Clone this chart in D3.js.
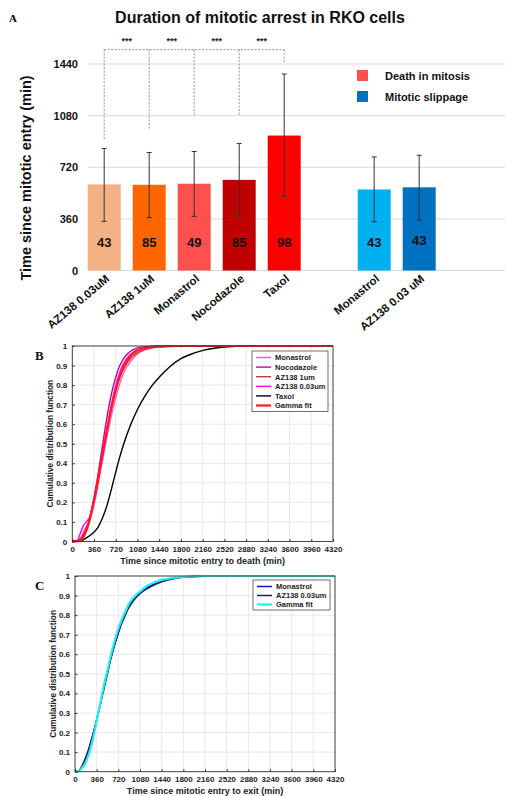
<!DOCTYPE html>
<html>
<head>
<meta charset="utf-8">
<script src="https://cdn.jsdelivr.net/npm/d3@7"></script>
<style>
body { margin: 0; background: #fff; }
text { font-family: "Liberation Sans", Arial, sans-serif; font-weight: bold; }
.panel-tag { font-family: "Liberation Serif", "Times New Roman", serif; }
</style>
</head>
<body>
<svg id="chart" width="505" height="796"></svg>
<script>
// ---- panel A data ----
const categories = ["AZ138 0.03uM", "AZ138 1uM", "Monastrol", "Nocodazole", "Taxol", "", "Monastrol", "AZ138 0.03 uM"];
const meanDuration = [600, 598, 605, 632, 941, null, 565, 580];
const errLow = [343, 370, 377, 377, 517, null, 340, 352];
const errHigh = [851, 823, 830, 886, 1370, null, 792, 804];
const cellCounts = [43, 85, 49, 85, 98, null, 43, 43];
const barColors = ["#F4B183", "#FF6600", "#FF5050", "#C00000", "#FF0000", null, "#00B0F0", "#0070C0"];
const yTicksA = [0, 360, 720, 1080, 1440];
const bracketDrop = [902, 978, 1078, 1078, 1443];
const bracketTop = 1540;
const sigLabels = ["***", "***", "***", "***"];
const legendA = [
    {label: "Death in mitosis", color: "#FF5050"},
    {label: "Mitotic slippage", color: "#0070C0"}
];

// ---- panel B data (minutes, cumulative fraction) ----
const monastrolDeath = [[0,0],[100,0.005],[160,0.03],[200,0.06],[240,0.08],[280,0.1],[330,0.15],[390,0.23],[450,0.33],[510,0.43],[570,0.53],[630,0.62],[690,0.7],[750,0.77],[810,0.83],[870,0.875],[930,0.905],[1000,0.935],[1080,0.96],[1200,0.98],[1440,0.995],[1800,1],[4320,1]];
const nocodazoleDeath = [[0,0],[120,0.005],[180,0.02],[240,0.06],[300,0.13],[360,0.22],[420,0.33],[480,0.45],[540,0.57],[600,0.68],[660,0.77],[720,0.84],[780,0.895],[840,0.93],[900,0.955],[960,0.972],[1080,0.99],[1200,0.997],[1440,1],[4320,1]];
const az1Death = [[0,0],[100,0.005],[160,0.025],[220,0.06],[280,0.11],[340,0.19],[400,0.28],[460,0.38],[520,0.48],[580,0.58],[640,0.67],[700,0.75],[760,0.815],[820,0.865],[880,0.9],[960,0.935],[1080,0.965],[1200,0.983],[1440,0.996],[1800,1],[4320,1]];
const az003Death = [[0,0],[80,0.005],[130,0.04],[180,0.08],[230,0.1],[280,0.12],[330,0.17],[390,0.25],[450,0.35],[510,0.46],[570,0.57],[630,0.67],[690,0.76],[750,0.83],[810,0.885],[870,0.92],[940,0.95],[1020,0.97],[1140,0.987],[1440,0.998],[1800,1],[4320,1]];
const taxolDeath = [[0,0],[150,0.005],[240,0.02],[330,0.04],[420,0.07],[500,0.12],[580,0.19],[650,0.27],[720,0.355],[780,0.425],[840,0.487],[900,0.542],[960,0.592],[1080,0.675],[1200,0.742],[1320,0.797],[1440,0.84],[1620,0.895],[1800,0.935],[2000,0.962],[2200,0.98],[2520,0.994],[2880,1],[4320,1]];
const gammaDeath = [[0,0],[90,0.002],[150,0.01],[210,0.04],[270,0.09],[330,0.17],[390,0.26],[450,0.36],[510,0.46],[570,0.56],[630,0.66],[690,0.74],[750,0.81],[810,0.865],[870,0.905],[930,0.935],[1000,0.96],[1080,0.977],[1200,0.99],[1440,0.998],[1800,1],[4320,1]];

// ---- panel C data ----
const monastrolExit = [[0,0],[60,0.003],[110,0.02],[170,0.06],[230,0.11],[290,0.18],[350,0.25],[410,0.33],[470,0.41],[530,0.49],[590,0.57],[650,0.64],[710,0.7],[770,0.755],[830,0.8],[890,0.84],[950,0.87],[1020,0.895],[1100,0.92],[1200,0.94],[1320,0.96],[1440,0.973],[1620,0.987],[1800,0.994],[2160,1],[4320,1]];
const az003Exit = [[0,0],[50,0.002],[100,0.02],[160,0.06],[220,0.11],[280,0.17],[340,0.24],[400,0.32],[460,0.4],[520,0.48],[580,0.56],[640,0.63],[700,0.69],[760,0.75],[820,0.79],[880,0.83],[940,0.86],[1000,0.885],[1080,0.91],[1200,0.935],[1320,0.955],[1440,0.97],[1620,0.985],[1800,0.993],[2160,0.999],[2520,1],[4320,1]];
const gammaExit = [[0,0],[60,0.002],[120,0.02],[180,0.05],[240,0.1],[300,0.17],[360,0.26],[420,0.35],[480,0.44],[540,0.52],[600,0.6],[660,0.67],[720,0.73],[780,0.78],[840,0.82],[900,0.86],[960,0.885],[1020,0.905],[1080,0.92],[1200,0.95],[1320,0.968],[1440,0.98],[1620,0.99],[1800,0.996],[2160,1],[4320,1]];

const cdfXTicks = d3.range(0, 4321, 360);
const cdfYTicks = d3.range(0, 1.01, 0.1).map(v => +v.toFixed(1));

const seriesB = [
    {name: "Monastrol", color: "#FF55CC", width: 1.4, data: monastrolDeath},
    {name: "Nocodazole", color: "#CC0099", width: 1.4, data: nocodazoleDeath},
    {name: "AZ138 1um", color: "#B8403A", width: 1.4, data: az1Death},
    {name: "AZ138 0.03um", color: "#FF00FF", width: 1.4, data: az003Death},
    {name: "Taxol", color: "#000000", width: 1.4, data: taxolDeath},
    {name: "Gamma fit", color: "#FF1A1A", width: 2.2, data: gammaDeath}
];
const seriesC = [
    {name: "Monastrol", color: "#1010EE", width: 1.5, data: monastrolExit},
    {name: "AZ138 0.03um", color: "#1B1B5E", width: 1.5, data: az003Exit},
    {name: "Gamma fit", color: "#22F0F0", width: 2.2, data: gammaExit}
];

const svg = d3.select("#chart");

renderBars(svg);
renderCdf(svg, {
    tag: "B", series: seriesB,
    x: [72.3, 333], y: [541.5, 346],
    xLabel: "Time since mitotic entry to death (min)",
    legend: {x: 252, y: 351, w: 76, rowH: 9.6}
});
renderCdf(svg, {
    tag: "C", series: seriesC,
    x: [75, 335], y: [771.7, 576],
    xLabel: "Time since mitotic entry to exit (min)",
    legend: {x: 253, y: 580, w: 77, rowH: 9}
});

function renderBars(svg) {
    const g = svg.append("g").attr("class", "panel-a");
    const slots = categories.map((_, i) => i);
    const x = d3.scaleBand().domain(slots).range([87.7, 87.7 + 45 * slots.length - 12])
        .paddingInner(12 / 45).paddingOuter(0);
    const y = d3.scaleLinear().domain([0, 1440]).range([270.5, 64]);
    const cx = i => x(i) + x.bandwidth() / 2;

    g.append("text").attr("class", "panel-tag").attr("x", 9).attr("y", 22)
        .attr("font-size", 11).text("A");
    g.append("text").attr("x", 260).attr("y", 23).attr("text-anchor", "middle")
        .attr("font-size", 16).attr("fill", "#111").text("Duration of mitotic arrest in RKO cells");

    // grid
    g.selectAll("line.grid").data(yTicksA).join("line").attr("class", "grid")
        .attr("x1", 88).attr("x2", 505)
        .attr("y1", d => y(d)).attr("y2", d => y(d))
        .attr("stroke", "#d9d9d9").attr("stroke-width", 1);

    const axis = g.append("g").attr("transform", "translate(88,0)")
        .call(d3.axisLeft(y).tickValues(yTicksA).tickSize(0).tickPadding(10).tickFormat(d3.format("d")));
    axis.select(".domain").remove();
    axis.selectAll("text").attr("font-size", 11).attr("fill", "#111")
        .style("font-family", "'Liberation Sans', Arial, sans-serif");

    g.append("text").attr("transform", "translate(31,178) rotate(-90)")
        .attr("text-anchor", "middle").attr("font-size", 14.5).attr("fill", "#111")
        .text("Time since mitotic entry (min)");

    const idx = slots.filter(i => meanDuration[i] != null);

    g.selectAll("rect.bar").data(idx).join("rect").attr("class", "bar")
        .attr("x", i => x(i)).attr("width", x.bandwidth())
        .attr("y", i => y(meanDuration[i])).attr("height", i => y(0) - y(meanDuration[i]))
        .attr("fill", i => barColors[i]);

    // error bars
    const eb = g.selectAll("g.err").data(idx).join("g").attr("class", "err")
        .attr("stroke", "#333").attr("stroke-width", 1);
    eb.append("line").attr("x1", i => cx(i)).attr("x2", i => cx(i))
        .attr("y1", i => y(errLow[i])).attr("y2", i => y(errHigh[i]));
    eb.append("line").attr("x1", i => cx(i) - 2.5).attr("x2", i => cx(i) + 2.5)
        .attr("y1", i => y(errHigh[i])).attr("y2", i => y(errHigh[i]));
    eb.append("line").attr("x1", i => cx(i) - 2.5).attr("x2", i => cx(i) + 2.5)
        .attr("y1", i => y(errLow[i])).attr("y2", i => y(errLow[i]));

    g.selectAll("text.count").data(idx).join("text").attr("class", "count")
        .attr("x", i => cx(i)).attr("y", i => i === 7 ? 245 : 247)
        .attr("text-anchor", "middle").attr("font-size", 13).attr("fill", "#111")
        .text(i => cellCounts[i]);

    // category labels
    g.selectAll("text.cat").data(idx).join("text").attr("class", "cat")
        .attr("transform", i => `translate(${cx(i) + 6},${280}) rotate(-40)`)
        .attr("text-anchor", "end").attr("font-size", 11.5).attr("fill", "#111")
        .text(i => categories[i]);

    // significance brackets
    const bx = d3.range(bracketDrop.length).map(cx);
    const br = g.append("g").attr("stroke", "#777").attr("stroke-width", 0.8)
        .attr("stroke-dasharray", "2,1.5").attr("fill", "none");
    br.append("line").attr("x1", bx[0]).attr("x2", bx[bx.length - 1])
        .attr("y1", y(bracketTop)).attr("y2", y(bracketTop));
    br.selectAll("line.drop").data(bracketDrop).join("line").attr("class", "drop")
        .attr("x1", (d, i) => bx[i]).attr("x2", (d, i) => bx[i])
        .attr("y1", y(bracketTop)).attr("y2", d => y(d));
    g.selectAll("text.sig").data(sigLabels).join("text").attr("class", "sig")
        .attr("x", (d, i) => (bx[i] + bx[i + 1]) / 2).attr("y", y(bracketTop) - 6)
        .attr("text-anchor", "middle").attr("font-size", 9).attr("fill", "#222")
        .text(d => d);

    // legend
    const lg = g.selectAll("g.leg").data(legendA).join("g").attr("class", "leg")
        .attr("transform", (d, i) => `translate(357,${70 + i * 21})`);
    lg.append("rect").attr("width", 11).attr("height", 11).attr("fill", d => d.color);
    lg.append("text").attr("x", 28).attr("y", 10).attr("font-size", 11).attr("fill", "#111")
        .text(d => d.label);
}

function renderCdf(svg, cfg) {
    const g = svg.append("g");
    const x = d3.scaleLinear().domain([0, 4320]).range(cfg.x);
    const y = d3.scaleLinear().domain([0, 1]).range(cfg.y);
    const [x0, x1] = cfg.x, [y0, y1] = cfg.y;

    g.append("rect").attr("x", x0).attr("y", y1).attr("width", x1 - x0).attr("height", y0 - y1)
        .attr("fill", "#fff");

    g.selectAll("line.vg").data(cdfXTicks).join("line").attr("class", "vg")
        .attr("x1", d => x(d)).attr("x2", d => x(d)).attr("y1", y0).attr("y2", y1)
        .attr("stroke", "#e3e3e3").attr("stroke-width", 0.8);
    g.selectAll("line.hg").data(cdfYTicks).join("line").attr("class", "hg")
        .attr("y1", d => y(d)).attr("y2", d => y(d)).attr("x1", x0).attr("x2", x1)
        .attr("stroke", "#e3e3e3").attr("stroke-width", 0.8);

    const line = d3.line().x(d => x(d[0])).y(d => y(d[1])).curve(d3.curveMonotoneX);
    g.selectAll("path.cdf").data(cfg.series).join("path").attr("class", "cdf")
        .attr("d", d => line(d.data)).attr("fill", "none")
        .attr("stroke", d => d.color).attr("stroke-width", d => d.width);

    g.append("rect").attr("x", x0).attr("y", y1).attr("width", x1 - x0).attr("height", y0 - y1)
        .attr("fill", "none").attr("stroke", "#333").attr("stroke-width", 0.9);

    const ax = g.append("g").attr("transform", `translate(0,${y0})`)
        .call(d3.axisBottom(x).tickValues(cdfXTicks).tickSize(-2.5).tickPadding(5).tickFormat(d3.format("d")));
    const ay = g.append("g").attr("transform", `translate(${x0},0)`)
        .call(d3.axisLeft(y).tickValues(cdfYTicks).tickSize(-2.5).tickPadding(5).tickFormat(d => d === 0 || d === 1 ? d3.format("d")(d) : d3.format(".1f")(d)));
    [ax, ay].forEach(a => {
        a.select(".domain").remove();
        a.selectAll(".tick line").attr("stroke", "#333");
        a.selectAll("text").attr("font-size", 8).attr("fill", "#222")
            .style("font-family", "'Liberation Sans', Arial, sans-serif").style("font-weight", "bold");
    });

    g.append("text").attr("x", (x0 + x1) / 2).attr("y", y0 + 22).attr("text-anchor", "middle")
        .attr("font-size", 9).attr("fill", "#222").text(cfg.xLabel);
    g.append("text").attr("transform", `translate(${x0 - 19},${(y0 + y1) / 2}) rotate(-90)`)
        .attr("text-anchor", "middle").attr("font-size", 8.3).attr("fill", "#222")
        .text("Cumulative distribution function");
    g.append("text").attr("class", "panel-tag").attr("x", 35).attr("y", y1 + 14)
        .attr("font-size", 13).attr("fill", "#111").text(cfg.tag);

    // legend
    const L = cfg.legend;
    const n = cfg.series.length;
    g.append("rect").attr("x", L.x).attr("y", L.y).attr("width", L.w).attr("height", n * L.rowH + 3)
        .attr("fill", "#fff").attr("stroke", "#333").attr("stroke-width", 0.7);
    const row = g.selectAll("g.lrow").data(cfg.series).join("g").attr("class", "lrow")
        .attr("transform", (d, i) => `translate(${L.x},${L.y + 6.5 + i * L.rowH})`);
    row.append("line").attr("x1", 4).attr("x2", 19).attr("y1", 0).attr("y2", 0)
        .attr("stroke", d => d.color).attr("stroke-width", d => d.width);
    row.append("text").attr("x", 23).attr("y", 2.8).attr("font-size", 7.5).attr("fill", "#222")
        .text(d => d.name);
}
</script>
</body>
</html>
